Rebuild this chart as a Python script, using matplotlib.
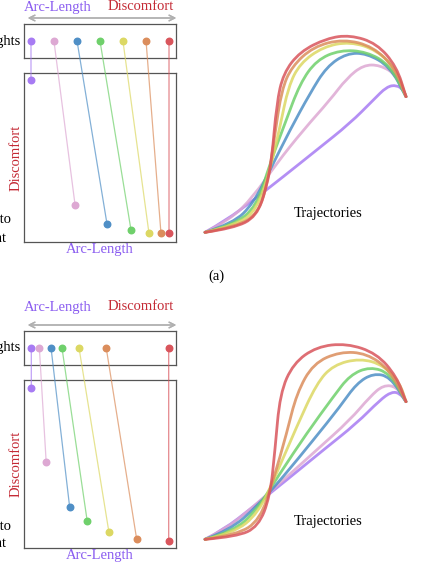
import matplotlib.pyplot as plt
from matplotlib.path import Path
from matplotlib.patches import PathPatch, ConnectionPatch

plt.rcParams['font.family'] = ['Liberation Serif', 'DejaVu Serif']

W, H = 432, 565

colors = ['#a77bf3', '#dda8d3', '#4f8fc6', '#6fd06b', '#dcd863', '#db8d5c', '#d9555c']

# panel (a)
weights_a = [0.046, 0.197, 0.349, 0.500, 0.651, 0.803, 0.954]
arc_a = [0.046, 0.336, 0.546, 0.704, 0.822, 0.901, 0.954]
disc_a = [0.959, 0.219, 0.107, 0.071, 0.053, 0.053, 0.053]

# panel (b)
weights_b = [0.048, 0.101, 0.178, 0.250, 0.362, 0.541, 0.952]
arc_b = [0.048, 0.146, 0.300, 0.416, 0.559, 0.741, 0.952]
disc_b = [0.954, 0.510, 0.246, 0.159, 0.093, 0.054, 0.042]

# trajectory waypoints (picture units, y downward), purple..red
traj_a = [
    [(15, 637), (80, 600), (160, 540), (250, 470), (350, 390), (450, 310), (520, 240), (560, 200), (590, 195), (610, 210), (618, 230)],
    [(15, 637), (90, 600), (160, 530), (230, 430), (310, 330), (390, 240), (440, 175), (490, 135), (540, 135), (590, 165), (618, 230)],
    [(15, 637), (100, 610), (160, 550), (210, 450), (270, 330), (330, 220), (380, 140), (440, 100), (500, 100), (570, 140), (618, 230)],
    [(15, 637), (100, 615), (170, 560), (210, 430), (255, 310), (300, 190), (350, 120), (420, 90), (500, 95), (570, 135), (618, 230)],
    [(15, 637), (110, 615), (170, 570), (210, 450), (240, 320), (265, 200), (300, 130), (370, 80), (450, 65), (530, 90), (590, 150), (618, 230)],
    [(15, 637), (110, 620), (175, 580), (205, 480), (225, 340), (245, 210), (275, 140), (340, 80), (430, 57), (520, 80), (585, 145), (618, 230)],
    [(15, 637), (100, 625), (170, 590), (200, 500), (215, 420), (230, 250), (250, 160), (300, 95), (380, 55), (450, 45), (530, 70), (590, 140), (618, 230)],
]
traj_b = [
    [(15, 598), (70, 570), (160, 500), (260, 420), (370, 330), (470, 250), (540, 180), (575, 155), (600, 160), (618, 185)],
    [(15, 598), (80, 565), (160, 500), (250, 420), (350, 330), (450, 240), (510, 170), (550, 135), (590, 140), (618, 185)],
    [(15, 598), (90, 570), (170, 500), (250, 410), (340, 300), (420, 200), (470, 130), (520, 100), (570, 110), (618, 185)],
    [(15, 598), (100, 575), (170, 510), (240, 400), (320, 280), (400, 170), (450, 105), (510, 80), (570, 100), (618, 185)],
    [(15, 598), (100, 580), (175, 520), (230, 400), (290, 260), (350, 130), (400, 75), (480, 55), (550, 75), (600, 130), (618, 185)],
    [(15, 598), (110, 585), (180, 540), (220, 420), (260, 280), (290, 160), (340, 70), (420, 35), (500, 40), (570, 90), (618, 185)],
    [(15, 598), (110, 590), (175, 560), (210, 470), (225, 330), (240, 160), (280, 70), (350, 20), (440, 10), (530, 40), (590, 110), (618, 185)],
]

fig = plt.figure(figsize=(W / 100, H / 100), dpi=100)


def box(x0, y0, x1, y1):
    # pixel box (top-down) -> figure fraction rect
    return [x0 / W, 1 - y1 / H, (x1 - x0) / W, (y1 - y0) / H]


def fx(x, y):
    return (x / W, 1 - y / H)


def smooth_path(pts):
    verts = [pts[0]]
    codes = [Path.MOVETO]
    for i in range(1, len(pts) - 1):
        mid = ((pts[i][0] + pts[i + 1][0]) / 2, (pts[i][1] + pts[i + 1][1]) / 2)
        verts += [pts[i], mid]
        codes += [Path.CURVE3, Path.CURVE3]
    verts.append(pts[-1])
    codes.append(Path.LINETO)
    return Path(verts, codes)


def panel(top, weights, arc, disc, trajs, wbox, sbox, label):
    wax = fig.add_axes(box(24, top + wbox[0], 176, top + wbox[1]))
    sax = fig.add_axes(box(24, top + sbox[0], 176, top + sbox[1]))
    for a in (wax, sax):
        a.set_xlim(0, 1)
        a.set_ylim(0, 1)
        a.set_xticks([])
        a.set_yticks([])
        for s in a.spines.values():
            s.set_color('#555555')
            s.set_linewidth(0.9)
    for i, c in enumerate(colors):
        con = ConnectionPatch(xyA=(weights[i], 0.5), coordsA=wax.transData,
                              xyB=(arc[i], disc[i]), coordsB=sax.transData,
                              color=c, lw=0.9, alpha=0.7, zorder=1)
        fig.add_artist(con)
        wax.scatter(weights[i], 0.5, s=22, color=c, zorder=3, clip_on=False)
        sax.scatter(arc[i], disc[i], s=22, color=c, zorder=3, clip_on=False)

    # labels
    fig.text(*fx(58, top + 7), 'Arc-Length', color='#8a5cf0', fontsize=10.5, ha='center', va='center')
    fig.text(*fx(141, top + 7), 'Discomfort', color='#c42a35', fontsize=10.5, ha='center', va='center')
    fig.add_artist(plt.annotate('', xy=fx(179, top + wbox[0] - 6), xytext=fx(25, top + wbox[0] - 6),
                                xycoords='figure fraction',
                                arrowprops=dict(arrowstyle='<->', color='#b0b0b0', lw=1.0)))
    fig.text(*fx(100, top + sbox[1] + 7), 'Arc-Length', color='#8a5cf0', fontsize=10.5, ha='center', va='center')
    fig.text(*fx(16, top + (sbox[0] + sbox[1]) / 2), 'Discomfort', color='#c42a35', fontsize=10.5,
             ha='center', va='center', rotation=90)
    fig.text(*fx(21, top + (wbox[0] + wbox[1]) / 2), 'Weights', fontsize=10.5, ha='right', va='center')
    fig.text(*fx(11, top + sbox[1] - 22), 'Close to', fontsize=10.5, ha='right', va='center')
    fig.text(*fx(6, top + sbox[1] - 4), 'Optimal Point', fontsize=10.5, ha='right', va='center')

    # trajectories
    tax = fig.add_axes(box(200, top + label[0], 420, top + label[0] + 230))
    tax.set_xlim(0, 660)
    tax.set_ylim(690, 0)
    tax.axis('off')
    for c, pts in zip(colors, trajs):
        tax.add_patch(PathPatch(smooth_path(pts), fill=False, edgecolor=c, lw=2.0, alpha=0.85,
                                capstyle='round'))
    fig.text(*fx(328, top + label[1]), 'Trajectories', fontsize=10.5, ha='center', va='center')


panel(0, weights_a, arc_a, disc_a, traj_a, (24, 58), (73, 242), (20, 214))
panel(300, weights_b, arc_b, disc_b, traj_b, (31, 65), (80, 248), (40, 221))

fig.text(*fx(216, 276), '(a)', fontsize=10.5, ha='center', va='center')

fig.savefig('out.png', dpi=100)
